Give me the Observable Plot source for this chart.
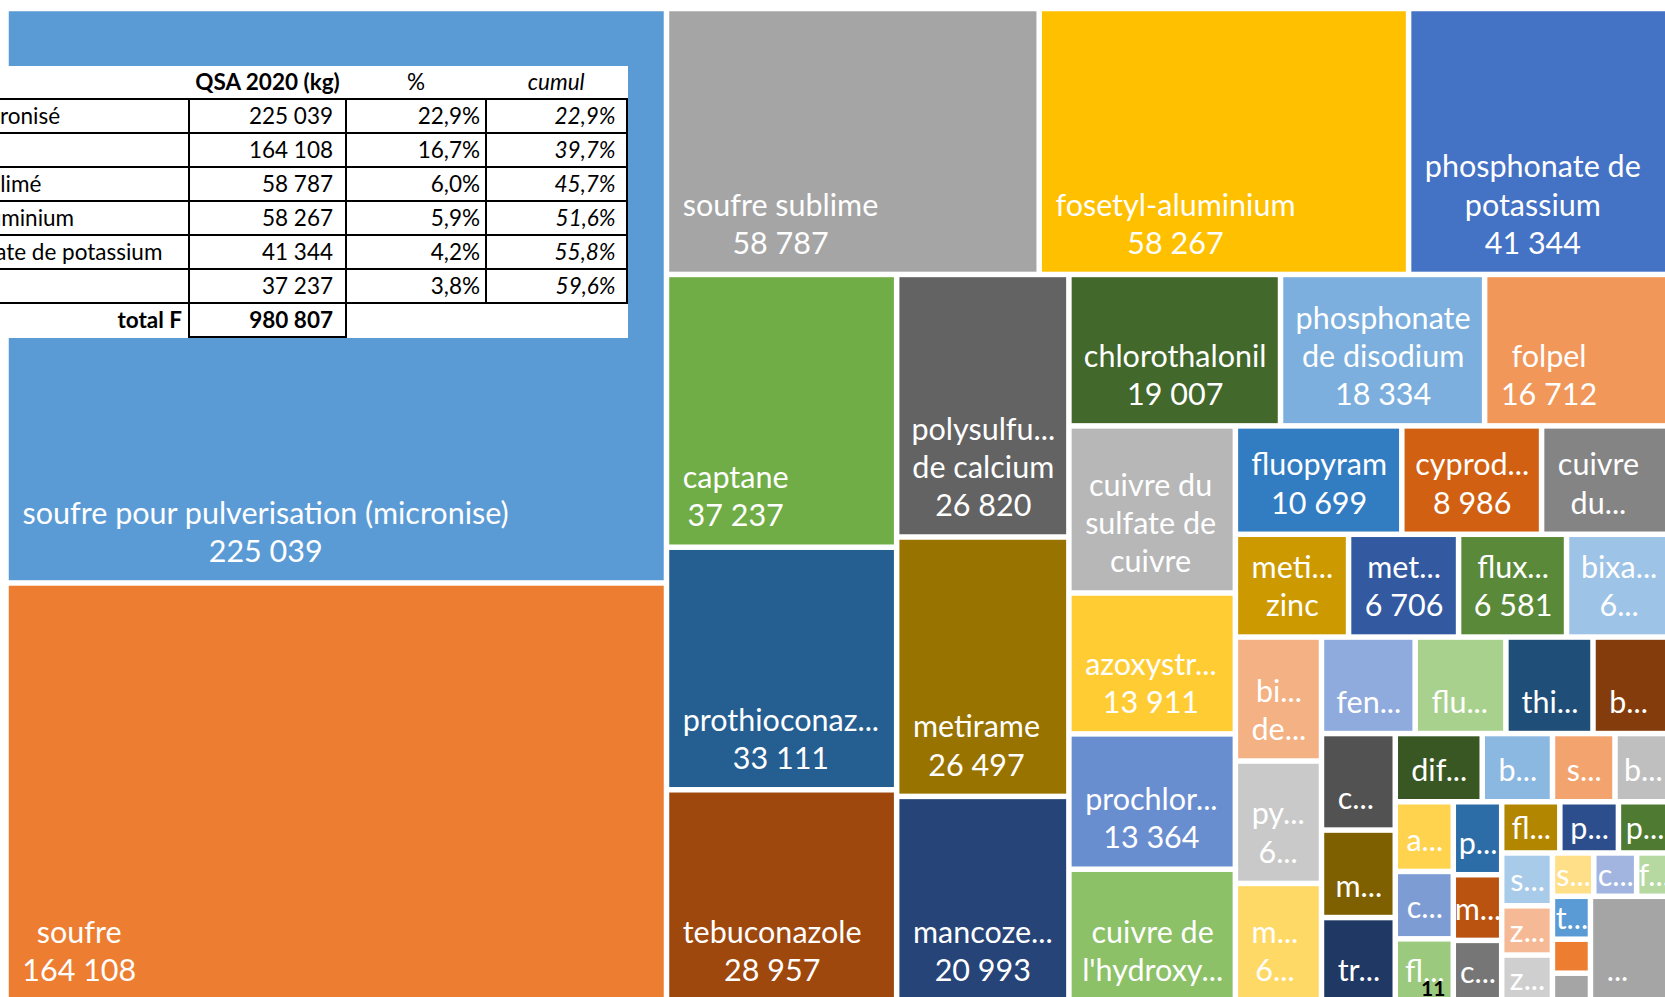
<!DOCTYPE html>
<html>
<head>
<meta charset="utf-8">
<script src="https://cdn.jsdelivr.net/npm/d3@7"></script>
<script src="https://cdn.jsdelivr.net/npm/@observablehq/plot@0.6"></script>
<style>
  html, body { margin: 0; padding: 0; background: #fff; overflow: hidden; width: 1665px; height: 997px; }
  #wrap { position: relative; width: 1665px; height: 997px; overflow: hidden; }
  #chart svg { display: block; }
  #tbl { position: absolute; left: -109px; top: 65.7px; border-collapse: collapse; background: #fff;
         font-family: Lato, "Open Sans", sans-serif; font-size: 22.5px; color: #000; table-layout: fixed; }
  #tbl td { padding: 0; height: 32px; line-height: 1; white-space: nowrap; overflow: hidden; vertical-align: middle; }
  #tbl tr.head td { height: 32.5px; border-bottom: 2px solid #000; text-align: center; }
  #tbl tr.data td { border-bottom: 2px solid #000; border-right: 2px solid #000; text-align: right; }
  #tbl tr.data td.name { text-align: left; padding-left: 6px; }
  #tbl td.q { padding-right: 12px; }
  #tbl td.p { padding-right: 5px; }
  #tbl td.c { padding-right: 10px; font-style: italic; }
  #tbl tr.total td.name { text-align: right; padding-right: 6px; font-weight: bold; border-right: 2px solid #000; }
  #tbl tr.total td.q { text-align: right; font-weight: bold; border-right: 2px solid #000; border-bottom: 2px solid #000; }
  #page { position: absolute; left: 1421px; top: 975px; font-family: Lato, sans-serif; font-weight: bold; font-size: 21px; color: #000; }
</style>
</head>
<body>
<div id="wrap">
  <div id="chart"></div>
  <table id="tbl"></table>
  <div id="page">11</div>
</div>
<script>
// ---------------- DATA ----------------
const names = [
  "soufre pour pulverisation (micronise)", "soufre", "soufre sublime", "fosetyl-aluminium",
  "phosphonate de\npotassium", "captane", "prothioconaz...", "tebuconazole",
  "polysulfu...\nde calcium", "metirame", "mancoze...", "chlorothalonil",
  "phosphonate\nde disodium", "folpel", "cuivre du\nsulfate de\ncuivre", "azoxystr...",
  "prochlor...", "cuivre de\nl'hydroxy...", "fluopyram", "cyprod...",
  "cuivre\ndu...", "meti...\nzinc", "met...", "flux...",
  "bixa...", "bi...\nde...", "py...", "m...",
  "fen...", "flu...", "thi...", "b...",
  "c...", "m...", "tr...", "dif...",
  "b...", "s...", "b...", "a...",
  "c...", "fl...", "p...", "m...",
  "c...", "fl...", "p...", "p...",
  "s...", "z...", "z...", "s...",
  "c...", "f...", "t...", "",
  "", "..."
];
const values = [
  225039, 164108, 58787, 58267,
  41344, 37237, 33111, 28957,
  26820, 26497, 20993, 19007,
  18334, 16712, 16500, 13911,
  13364, 13100, 10699, 8986,
  8300, 6900, 6706, 6581,
  6350, 6330, 6250, 6050,
  5362, 5192, 4985, 4447,
  4225, 3829, 3692, 3517,
  2842, 2528, 2253, 2398,
  2318, 2170, 2095, 1885,
  1766, 1766, 1780, 1588,
  1590, 1482, 1410, 1062,
  1102, 875, 968, 767,
  647, 5026
];
// "v" = show the formatted value, "" = nothing, other = shown as is
const shownValues = [
  "v", "v", "v", "v", "v", "v", "v", "v", "v", "v", "v", "v", "v", "v", "", "v",
  "v", "", "v", "v", "", "", "v", "v", "6...", "", "6...", "6...",
  "", "", "", "", "", "", "", "", "", "", "", "", "", "", "", "",
  "", "", "", "", "", "", "", "", "", "", "", "", "", ""
];
const totalF = 980807;
const tableNames = ["soufre micronisé", "soufre", "soufre sublimé", "fosetyl-aluminium", "phosphonate de potassium", "captane"];
const tableQSA = [225039, 164108, 58787, 58267, 41344, 37237];
const tableHeaders = ["", "QSA 2020 (kg)", "%", "cumul"];
const totalLabel = "total F";

// ---------------- STYLES ----------------
const palette = [
  "#5B9BD5", "#ED7D31", "#A5A5A5", "#FFC000", "#4472C4", "#70AD47",
  "#255E91", "#9E480E", "#636363", "#997300", "#264478", "#43682B",
  "#7CAFDD", "#F1975A", "#B7B7B7", "#FFCD33", "#698ED0", "#8CC168",
  "#327DC2", "#D26012", "#848484", "#CC9A00", "#335AA1", "#5A8A39",
  "#9DC3E6", "#F4B183", "#C9C9C9", "#FFD966", "#8FAADC", "#A9D18E",
  "#1F4E79", "#843C0C", "#525252", "#7F6000", "#203864", "#385723",
  "#8BB8E1", "#F2A36E", "#BFBFBF", "#FFD34E", "#7E9CD4", "#9BC97D",
  "#2C6DA8", "#B9530F", "#767676", "#B38600", "#2C4E8C", "#4E7A32",
  "#A9CBEA", "#F6B996", "#CFCFCF", "#FFDF88", "#A1B5E0", "#B6D8A1",
  "#5A9BD6", "#ED7D31", "#A5A5A5", "#A5A5A5"
];
const FS = 30.5, LH = 38.2, PAD = 13, INSET = 2.75, BOTTOM = 18.5, MID = 11;
const FONT = "Lato, 'Open Sans', sans-serif";
const W = 1664.7, H = 993.4, LEFT = 6, TOP = 8.5;
const RATIO = 0.9, TURN = 1.035;

// ---------------- LAYOUT (squarified, Excel-like) ----------------
function excelTile(parent, x0, y0, x1, y1) {
  const nodes = parent.children, n = nodes.length;
  let value = parent.value, i0 = 0;
  while (i0 < n) {
    const dx = x1 - x0, dy = y1 - y0;
    const dice = dx < dy * TURN;
    const L = dice ? dx : dy, D = dice ? dy : dx;
    const worst = (s, a, b) => {
      const t = D * s / value;
      let w = 0;
      for (let i = a; i < b; i++) {
        const len = L * nodes[i].value / s;
        w = Math.max(w, RATIO * len / t, t / len / RATIO);
      }
      return w;
    };
    let i1 = i0 + 1, sum = nodes[i0].value, best = worst(sum, i0, i1);
    while (i1 < n) {
      const s2 = sum + nodes[i1].value, w2 = worst(s2, i0, i1 + 1);
      if (w2 > best) break;
      best = w2; sum = s2; i1++;
    }
    const row = {value: sum, children: nodes.slice(i0, i1)};
    if (dice) { const yy = value ? y0 + dy * sum / value : y1; d3.treemapDice(row, x0, y0, x1, yy); y0 = yy; }
    else { const xx = value ? x0 + dx * sum / value : x1; d3.treemapSlice(row, x0, y0, xx, y1); x0 = xx; }
    value -= sum; i0 = i1;
  }
}

const root = d3.hierarchy({children: values.map((v, i) => ({i}))})
  .sum(d => d.children ? 0 : values[d.i]);
d3.treemap().size([W, H]).tile(excelTile)(root);
const cells = root.leaves().map(l => ({i: l.data.i, x0: l.x0, x1: l.x1, y0: l.y0, y1: l.y1, fill: palette[l.data.i]}));

const loc = d3.formatLocale({decimal: ",", thousands: " ", grouping: [3], currency: ["", " €"]});
const fmtInt = loc.format(",d");
const fmtPct = loc.format(".1%");

const ctx = document.createElement("canvas").getContext("2d");
ctx.font = `${FS}px Lato`;
const labelLines = [];
cells.forEach(c => {
  const lines = names[c.i] ? names[c.i].split("\n") : [];
  const sv = shownValues[c.i];
  if (sv === "v") lines.push(fmtInt(values[c.i])); else if (sv) lines.push(sv);
  if (!lines.length) return;
  const tw = d3.max(lines, s => ctx.measureText(s).width);
  const cx = Math.min(c.x0 + INSET + PAD + tw / 2, (c.x0 + c.x1) / 2);
  const m = lines.length;
  const last = Math.max(c.y1 - INSET - BOTTOM, (c.y0 + c.y1) / 2 + MID + (m - 1) * LH / 2);
  lines.forEach((s, j) => labelLines.push({x: cx, y: last - (m - 1 - j) * LH - 0.32 * FS, text: s}));
});

const chart = Plot.plot({
  width: 1665, height: 997, margin: 0,
  style: {background: "white", overflow: "hidden", fontFamily: FONT},
  x: {domain: [0, W], range: [LEFT, LEFT + W], axis: null},
  y: {domain: [0, H], range: [TOP, TOP + H], axis: null},
  color: {type: "identity"},
  marks: [
    Plot.rect(cells, {x1: "x0", x2: "x1", y1: "y0", y2: "y1", fill: "fill", inset: INSET}),
    Plot.text(labelLines, {x: "x", y: "y", text: "text", fill: "white", fontSize: FS, fontFamily: FONT, textAnchor: "middle"})
  ]
});
document.getElementById("chart").appendChild(chart);

// ---------------- TABLE ----------------
const tbl = d3.select("#tbl");
const cg = tbl.append("colgroup");
[298, 157, 140, 140.5].forEach(w => cg.append("col").style("width", w + "px"));
const hr = tbl.append("tr").attr("class", "head");
tableHeaders.forEach((h, j) => {
  const td = hr.append("td").text(h);
  if (j === 1) td.style("font-weight", "bold");
  if (j === 3) td.style("font-style", "italic");
});
let cum = 0;
tableNames.forEach((nm, i) => {
  cum += tableQSA[i];
  const tr = tbl.append("tr").attr("class", "data");
  tr.append("td").attr("class", "name").text(nm);
  tr.append("td").attr("class", "q").text(fmtInt(tableQSA[i]));
  tr.append("td").attr("class", "p").text(fmtPct(tableQSA[i] / totalF));
  tr.append("td").attr("class", "c").text(fmtPct(cum / totalF));
});
const tt = tbl.append("tr").attr("class", "total");
tt.append("td").attr("class", "name").text(totalLabel);
tt.append("td").attr("class", "q").text(fmtInt(totalF));
tt.append("td");
tt.append("td");
</script>
</body>
</html>
